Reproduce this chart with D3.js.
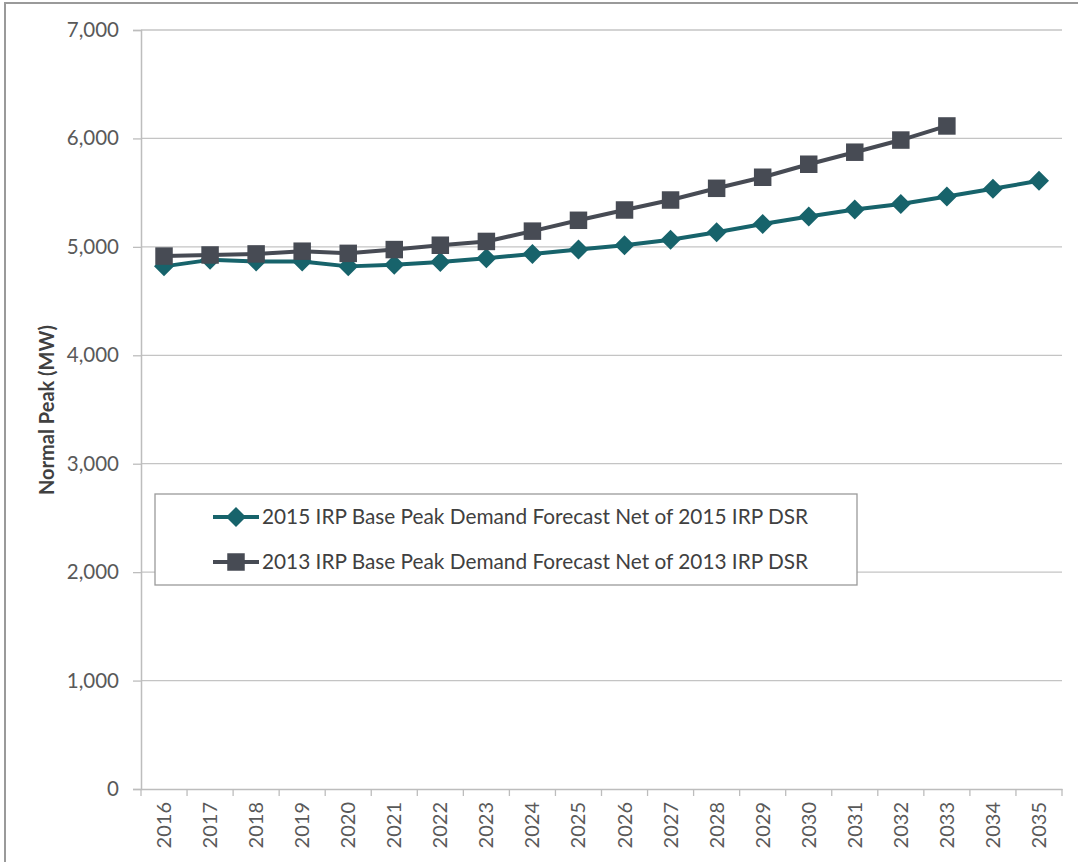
<!DOCTYPE html>
<html>
<head>
<meta charset="utf-8">
<script src="https://cdn.jsdelivr.net/npm/d3@7"></script>
<style>
  html, body { margin: 0; padding: 0; background: #fff; }
  svg { display: block; }
</style>
</head>
<body>
<svg id="chart" width="1078" height="862"></svg>
<script>
// Normal peak demand forecasts (MW) by year
const years = ["2016","2017","2018","2019","2020","2021","2022","2023","2024","2025",
               "2026","2027","2028","2029","2030","2031","2032","2033","2034","2035"];
const irp2015 = [4820, 4880, 4865, 4865, 4820, 4835, 4860, 4895, 4935, 4975,
                 5015, 5065, 5135, 5210, 5280, 5345, 5395, 5465, 5535, 5610];
const irp2013 = [4915, 4925, 4935, 4960, 4940, 4975, 5015, 5050, 5145, 5245,
                 5340, 5432, 5540, 5642, 5762, 5873, 5985, 6115];
const yTicks = [0, 1000, 2000, 3000, 4000, 5000, 6000, 7000];
const seriesNames = [
  "2015 IRP Base Peak Demand Forecast Net of 2015 IRP DSR",
  "2013 IRP Base Peak Demand Forecast Net of 2013 IRP DSR"
];

const teal = "#17636b";
const slate = "#474b54";
const textColor = "#595959";
const font = "Lato, 'Open Sans', sans-serif";

const svg = d3.select("#chart");

// outer frame
svg.append("rect")
  .attr("x", 5).attr("y", 3)
  .attr("width", 1090).attr("height", 880)
  .attr("fill", "none").attr("stroke", "#9a9a9a").attr("stroke-width", 2);

const plot = { left: 141, right: 1062, top: 30, bottom: 789 };

const x = d3.scaleBand().domain(years).range([plot.left, plot.right]).padding(0);
const y = d3.scaleLinear().domain([0, 7000]).range([plot.bottom, plot.top]);
const cx = d => x(d) + x.bandwidth() / 2;

// horizontal gridlines
svg.append("g")
  .selectAll("line")
  .data(yTicks.filter(v => v > 0))
  .join("line")
  .attr("x1", plot.left).attr("x2", plot.right)
  .attr("y1", d => y(d)).attr("y2", d => y(d))
  .attr("stroke", "#c4c4c4").attr("stroke-width", 1.3);

// y axis
const yAxis = svg.append("g")
  .attr("transform", `translate(${plot.left},0)`)
  .call(d3.axisLeft(y).tickValues(yTicks).tickSize(8).tickPadding(14)
    .tickFormat(d3.format(",")));
yAxis.select(".domain").attr("stroke", "#bdbdbd").attr("stroke-width", 1.5);
yAxis.selectAll(".tick line").attr("stroke", "#bdbdbd").attr("stroke-width", 1.3);
yAxis.selectAll(".tick text")
  .attr("fill", textColor).attr("font-family", font).attr("font-size", 20.5);

// x axis: baseline, boundary ticks, rotated year labels
const xAxis = svg.append("g")
  .attr("transform", `translate(0,${plot.bottom})`)
  .call(d3.axisBottom(x).tickSize(0).tickPadding(0));
xAxis.select(".domain").attr("stroke", "#bdbdbd").attr("stroke-width", 1.5);
xAxis.selectAll(".tick text")
  .attr("fill", textColor).attr("font-family", font).attr("font-size", 20)
  .attr("transform", "rotate(-90)")
  .attr("text-anchor", "end")
  .attr("dy", "0.35em")
  .attr("x", -13).attr("y", 0);
xAxis.append("g")
  .selectAll("line")
  .data(years.map(d => x(d)).concat([plot.right]))
  .join("line")
  .attr("x1", d => d).attr("x2", d => d)
  .attr("y1", 0).attr("y2", 7)
  .attr("stroke", "#bdbdbd").attr("stroke-width", 1.3);

// y axis title
svg.append("text")
  .attr("transform", "translate(54,410) rotate(-90)")
  .attr("text-anchor", "middle")
  .attr("font-family", font).attr("font-weight", "bold").attr("font-size", 20)
  .attr("fill", "#404040")
  .text("Normal Peak (MW)");

// series lines and markers
const line = d3.line().x((d, i) => cx(years[i])).y(d => y(d));

function drawSeries(values, color, shape) {
  const g = svg.append("g");
  g.append("path")
    .datum(values)
    .attr("d", line)
    .attr("fill", "none").attr("stroke", color)
    .attr("stroke-width", 4).attr("stroke-linejoin", "round");
  g.selectAll("path.m")
    .data(values)
    .join("path")
    .attr("class", "m")
    .attr("d", d3.symbol().type(shape.type).size(shape.size))
    .attr("transform", (d, i) => `translate(${cx(years[i])},${y(d)})` + (shape.rotate ? " rotate(45)" : ""))
    .attr("fill", color);
}

const diamond = { type: d3.symbolSquare, size: 200, rotate: true };
const square = { type: d3.symbolSquare, size: 306, rotate: false };

drawSeries(irp2015, teal, diamond);
drawSeries(irp2013, slate, square);

// legend
const legend = svg.append("g");
legend.append("rect")
  .attr("x", 155).attr("y", 494).attr("width", 702).attr("height", 91)
  .attr("fill", "#fff").attr("stroke", "#9a9a9a").attr("stroke-width", 1.3);

const legendItems = [
  { name: seriesNames[0], color: teal, shape: diamond, y: 517 },
  { name: seriesNames[1], color: slate, shape: square, y: 562 }
];
legendItems.forEach(item => {
  legend.append("line")
    .attr("x1", 213).attr("x2", 259).attr("y1", item.y).attr("y2", item.y)
    .attr("stroke", item.color).attr("stroke-width", 4);
  legend.append("path")
    .attr("d", d3.symbol().type(item.shape.type).size(item.shape.size))
    .attr("transform", `translate(236,${item.y})` + (item.shape.rotate ? " rotate(45)" : ""))
    .attr("fill", item.color);
  legend.append("text")
    .attr("x", 262).attr("y", item.y).attr("dy", "0.35em")
    .attr("font-family", font).attr("font-size", 20.8)
    .attr("fill", "#404040")
    .text(item.name);
});
</script>
</body>
</html>
